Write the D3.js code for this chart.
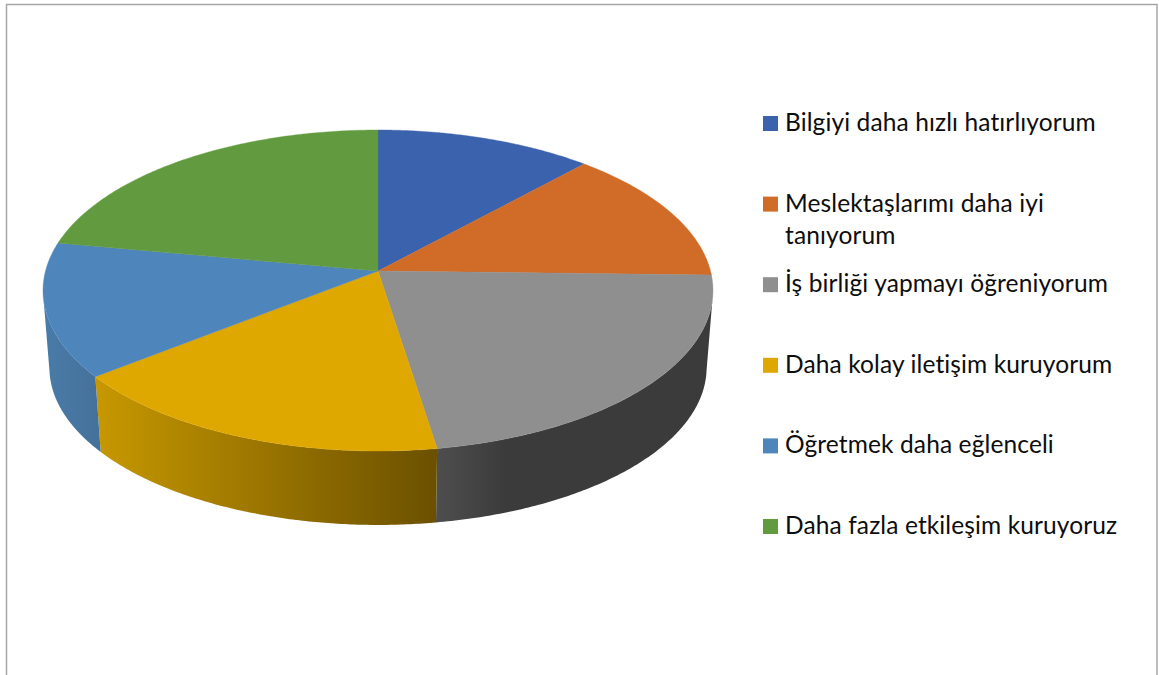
<!DOCTYPE html>
<html><head><meta charset="utf-8">
<script src="https://cdn.jsdelivr.net/npm/d3@7/dist/d3.min.js"></script>
<style>html,body{margin:0;padding:0;background:#fff;overflow:hidden}svg{display:block}</style>
</head><body><svg id="c" width="1159" height="675"></svg>
<script>
const categories = ["Bilgiyi daha hızlı hatırlıyorum","Meslektaşlarımı daha iyi|tanıyorum","İş birliği yapmayı öğreniyorum","Daha kolay iletişim kuruyorum","Öğretmek daha eğlenceli","Daha fazla etkileşim kuruyoruz"];
const values = [11.8,13.6,22.1,16.9,13.5,22.1];
const topColors = ["#3a62ad","#d06c28","#8f8f8f","#dfa800","#4e86bb","#629a3f"];
const wallStops = [["#2c4a82","#2c4a82"],["#9c511e","#9c511e"],["#4e4e4e","#3b3b3b"],["#c79800","#6b5000"],["#4a7ba8","#44719b"],["#4a7330","#4a7330"]];

const svg = d3.select("#c");
const cx = 378, cy = 271, a = 125.2, c = -0.1215, k = 332.5, sx = 0.981, by0 = 367, ty0 = 290, ty = 0.981;
function topPt(t){ const u=Math.sin(t), v=-Math.cos(t), w=1+c*v; return [cx+k*u/w,(cy+a*v)/w]; }
function botPt(t){ const p=topPt(t); return [cx+(p[0]-cx)*sx, by0+(p[1]-ty0)*ty]; }
const arcs = d3.pie().sort(null).value(d=>d)(values);
const line = d3.line();
const samples = (s,e)=>d3.range(0,121).map(i=>s+(e-s)*i/120);
const defs = svg.append("defs");

svg.append("path").attr("d","M6.5,680V4.5H1157V680").attr("fill","none").attr("stroke","#a6a6a6").attr("stroke-width",1.5);

arcs.forEach((d,i)=>{
  const s=Math.max(d.startAngle,Math.PI/2+0.14), e=Math.min(d.endAngle,Math.PI*1.5-0.14);
  if(e<=s) return;
  const ts=samples(s,e);
  const topA=ts.map(topPt), botA=ts.map(botPt).reverse();
  const xs=topA.concat(botA).map(p=>p[0]);
  defs.append("linearGradient").attr("id","w"+i).attr("gradientUnits","userSpaceOnUse")
    .attr("x1",d3.min(xs)).attr("x2",i===2?d3.min(xs)+70:d3.max(xs)).attr("y1",0).attr("y2",0)
    .selectAll("stop").data(wallStops[i]).join("stop").attr("offset",(q,j)=>j).attr("stop-color",q=>q);
  svg.append("path").attr("d",line(topA.concat(botA))+"Z").attr("fill",`url(#w${i})`);
});
arcs.forEach((d,i)=>{
  const pts=[[cx,cy]].concat(samples(d.startAngle,d.endAngle).map(topPt));
  svg.append("path").attr("d",line(pts)+"Z").attr("fill",topColors[i]).attr("stroke",topColors[i]).attr("stroke-width",0.4);
});

const legendY = d3.scaleLinear().domain([0,5]).range([116,519]);
const lg = svg.append("g").attr("font-family","Lato, sans-serif").attr("font-size",24.5).attr("letter-spacing",0.12).attr("fill","#0d0d0d");
categories.forEach((t,i)=>{
  const y=legendY(i);
  lg.append("rect").attr("x",763).attr("y",y).attr("width",15).attr("height",15).attr("fill",topColors[i]);
  t.split("|").forEach((ln,j)=>{
    lg.append("text").attr("x",785).attr("y",y+15+j*32).text(ln);
  });
});
</script></body></html>
